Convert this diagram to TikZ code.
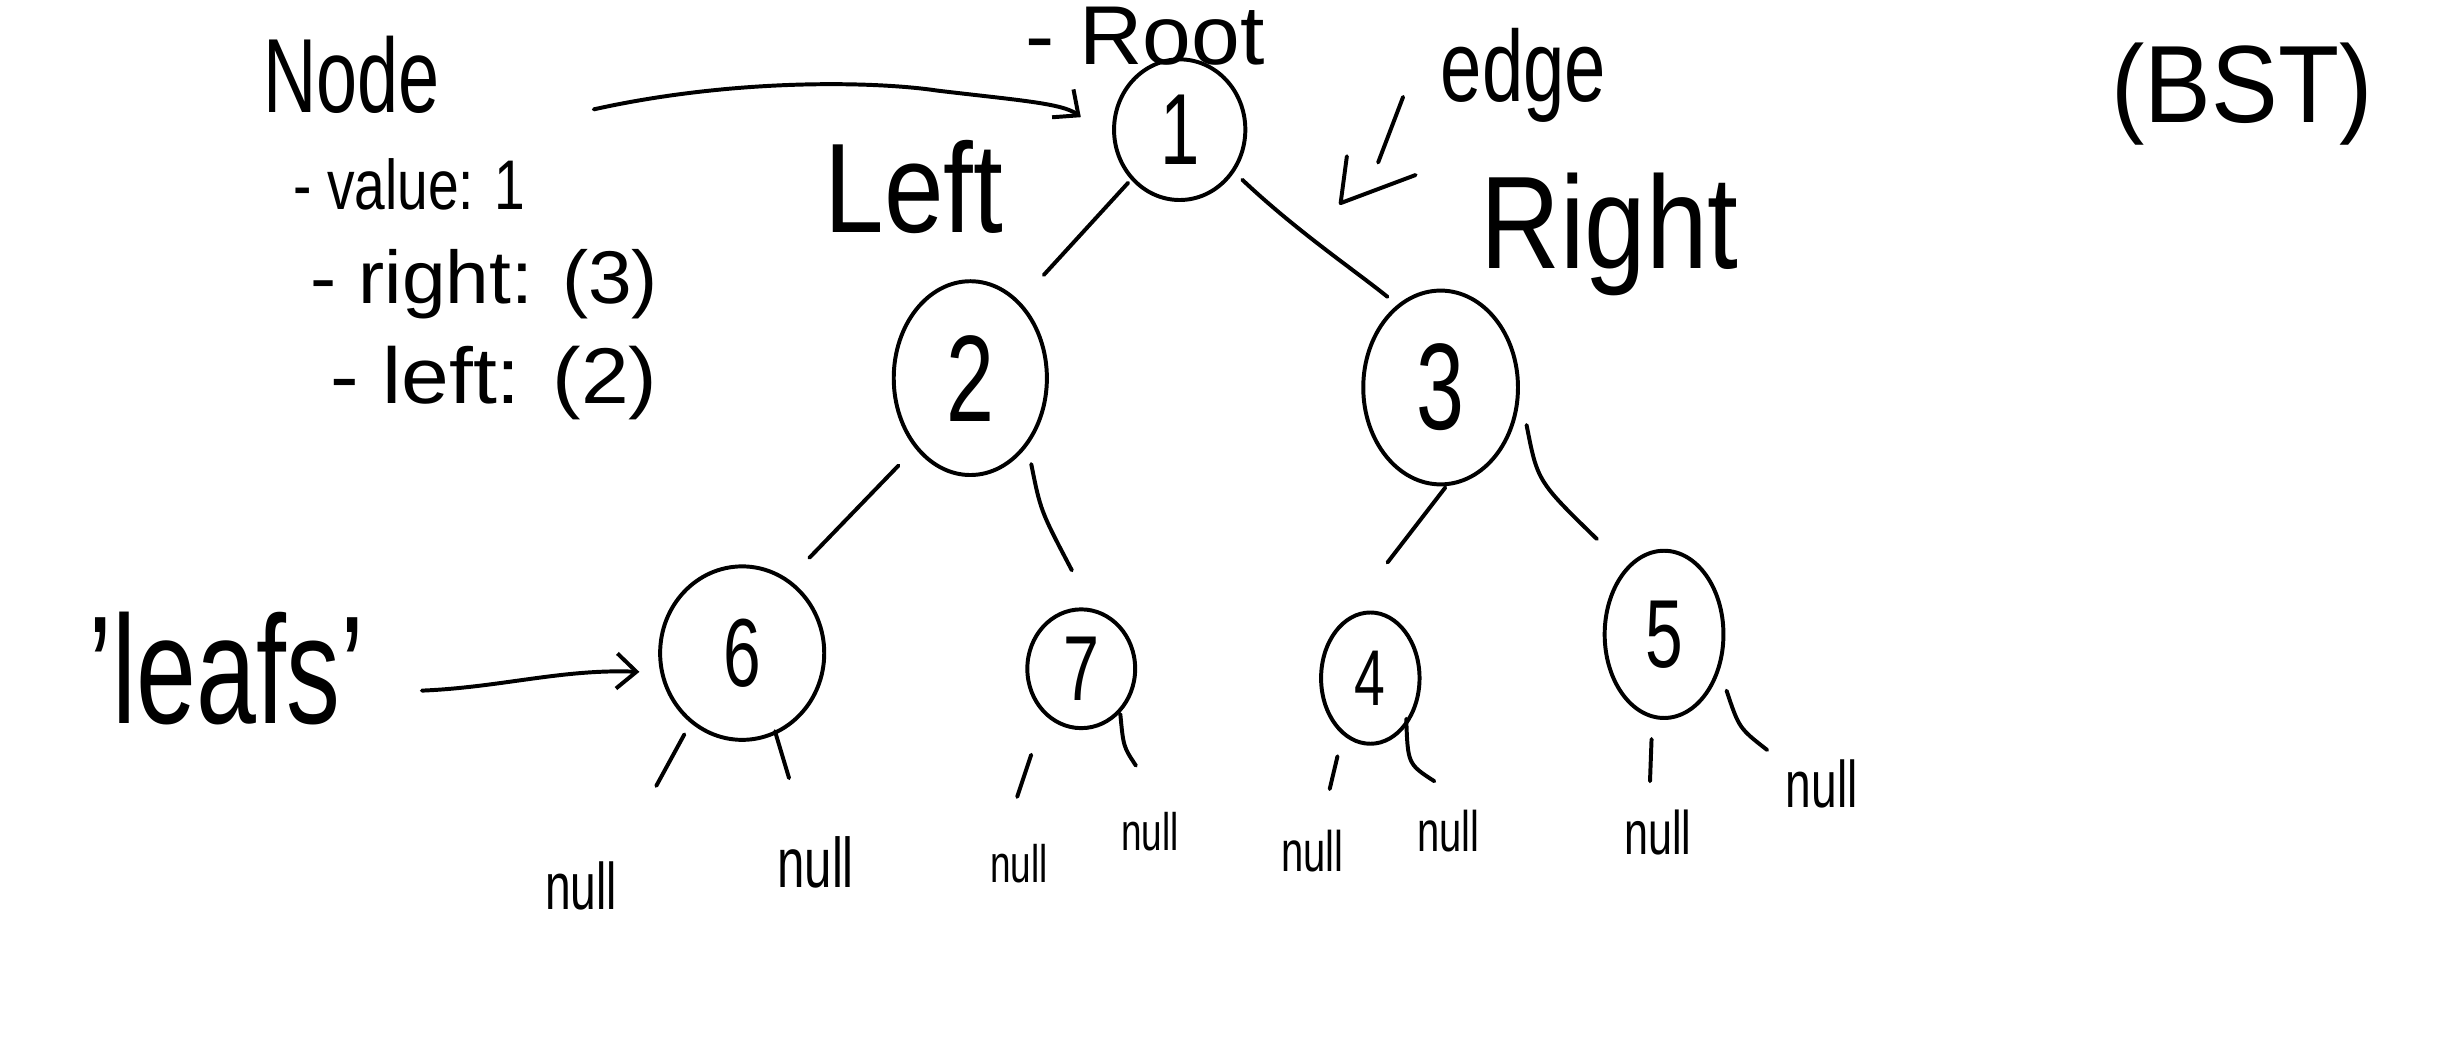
\documentclass[tikz,border=0pt]{standalone}
\usepackage{fontspec}
\usepackage{graphicx}
\setmainfont[FakeStretch=0.7]{Liberation Sans}
\usetikzlibrary{shapes.geometric,arrows.meta,calc}
\begin{document}
\begin{tikzpicture}[x=0.025cm,y=-0.025cm, line width=1.8pt, line cap=round, line join=round,
  hw/.style={font=\fontsize{#1}{#1}\selectfont, inner sep=0pt},
  bnode/.style={draw, ellipse, inner sep=0pt},
  tip/.style={-{Straight Barb[length=9pt,width=16pt]}}]
\useasboundingbox[fill=white] (0,0) rectangle (1568,675);

% tree nodes
\node[bnode, minimum width=2.1cm, minimum height=2.25cm, hw=46] (n1) at (755,83) {1};
\node[bnode, minimum width=2.45cm, minimum height=3.1cm, hw=56] (n2) at (621,242) {2};
\node[bnode, minimum width=2.475cm, minimum height=3.1cm, hw=56] (n3) at (922,248) {3};
\node[bnode, minimum width=2.625cm, minimum height=2.775cm, hw=44] (n6) at (475,418) {6};
\node[bnode, minimum width=1.725cm, minimum height=1.9cm, hw=42] (n7) at (692,428) {7};
\node[bnode, minimum width=1.575cm, minimum height=2.1cm, hw=36] (n4) at (877,434) {4};
\node[bnode, minimum width=1.9cm, minimum height=2.675cm, hw=44] (n5) at (1065,406) {5};

% null labels
\node[hw=30] (nl1) at (372,567) {null};
\node[hw=32] (nl2) at (522,552) {null};
\node[hw=24] (nl3) at (652,553) {null};
\node[hw=24] (nl4) at (736,532) {null};
\node[hw=26] (nl5) at (840,545) {null};
\node[hw=26] (nl6) at (927,532) {null};
\node[hw=28] (nl7) at (1061,533) {null};
\node[hw=30] (nl8) at (1166,502) {null};

% texts
\node[hw=48] (nodelbl) at (225,48) {Node};
\node[hw=32] (val) at (262,118) {\scalebox{1.12}[1]{- value: 1}};
\node[hw=34] (rt) at (310,182) {\scalebox{1.5}[1]{- right: (3)}};
\node[hw=36] (lf) at (316,245) {\scalebox{1.55}[1]{- left: (2)}};
\node[hw=38] (root) at (733,23) {\scalebox{1.5}[1]{- Root}};
\node[hw=58] (leftlbl) at (585,120) {\scalebox{1.2}[1]{Left}};
\node[hw=46] (edgelbl) at (975,48) {\scalebox{1.05}[1]{edge}};
\node[hw=60] (rightlbl) at (1030,150) {\scalebox{1.2}[1]{Right}};
\node[hw=50] (bst) at (1435,60) {\scalebox{1.3}[1]{(BST)}};
\node[hw=70] (leafs) at (145,428) {'leafs'};

% tree edges
\draw ($(n1)+(-33,34)$) -- ($(n2)+(47,-66)$);
\draw ($(n1)+(40,32)$) .. controls ($(n1)+(75,65)$) and ($(n3)+(-55,-75)$) .. ($(n3)+(-34,-58)$);
\draw ($(n2)+(-46,56)$) -- ($(n6)+(43,-61)$);
\draw ($(n2)+(39,55)$) .. controls ($(n2)+(45,85)$) .. ($(n7)+(-6,-63)$);
\draw ($(n3)+(3,64)$) -- ($(n4)+(11,-74)$);
\draw ($(n3)+(55,24)$) .. controls ($(n3)+(62,60)$) .. ($(n5)+(-43,-61)$);

% null edges
\draw ($(n6)+(-37,52)$) -- ($(nl1)+(48,-64)$);
\draw ($(n6)+(21,50)$) -- ($(nl2)+(-17,-54)$);
\draw ($(n7)+(-32,55)$) -- ($(nl3)+(-1,-43)$);
\draw ($(n7)+(25,29)$) .. controls ($(n7)+(27,50)$) .. ($(nl4)+(-9,-42)$);
\draw ($(n4)+(-21,50)$) -- ($(nl5)+(11,-40)$);
\draw ($(n4)+(23,26)$) .. controls ($(n4)+(24,55)$) .. ($(nl6)+(-9,-32)$);
\draw ($(n5)+(-8,67)$) -- ($(nl7)+(-5,-33)$);
\draw ($(n5)+(40,36)$) .. controls ($(n5)+(48,60)$) .. ($(nl8)+(-35,-22)$);

% arrows
\coordinate (ra) at (380,70);
\draw[tip] (ra) .. controls (470,50) and (560,52) .. (600,58) .. controls (650,64) and (680,66) .. ($(n1.west)+(-20,-8)$);
\coordinate (la) at (270,442);
\draw[tip] (la) .. controls (320,440) and (360,428) .. ($(n6.west)+(-12,12)$);

% edge pointer
\coordinate (e1) at (898,62);
\coordinate (e2) at (882,104);
\coordinate (e3) at (862,100);
\coordinate (e4) at (858,130);
\coordinate (e5) at (906,112);
\draw (e1) -- (e2);
\draw (e3) -- (e4) -- (e5);
\end{tikzpicture}
\end{document}
